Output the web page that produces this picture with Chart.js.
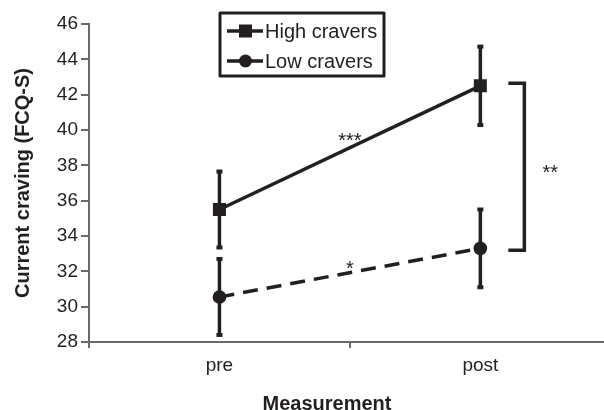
<!DOCTYPE html>
<html>
<head>
<meta charset="utf-8">
<script src="https://cdn.jsdelivr.net/npm/chart.js@4/dist/chart.umd.min.js"></script>
<style>
  body { margin: 0; background: #fff; overflow: hidden; }
  canvas { display: block; }
</style>
</head>
<body>
<canvas id="chart" width="620" height="410"></canvas>
<script>
// values
const measurements = ['pre', 'post'];
const highLabel = 'High cravers';
const lowLabel = 'Low cravers';
const highMeans = [35.5, 42.5];
const highErrors = [2.15, 2.22];
const lowMeans = [30.55, 33.3];
const lowErrors = [2.15, 2.2];
const yTicks = [28, 30, 32, 34, 36, 38, 40, 42, 44, 46];
// significance marks: change within each group, difference between groups at post
const highChangeStars = '***';
const lowChangeStars = '*';
const groupDiffStars = '**';

const ink = '#231f20';
const axisGrey = '#6a6a6a';
const font = '"Liberation Sans", Arial, sans-serif';

function drawErrorBars(chart, idx, errors) {
  const ctx = chart.ctx;
  const y = chart.scales.y;
  const meta = chart.getDatasetMeta(idx);
  ctx.save();
  ctx.strokeStyle = ink;
  ctx.fillStyle = ink;
  ctx.lineWidth = 3.5;
  meta.data.forEach((pt, i) => {
    const v = chart.data.datasets[idx].data[i];
    const top = y.getPixelForValue(v + errors[i]);
    const bot = y.getPixelForValue(v - errors[i]);
    ctx.beginPath();
    ctx.moveTo(pt.x, top);
    ctx.lineTo(pt.x, bot);
    ctx.stroke();
    ctx.fillRect(pt.x - 3, top - 2, 6, 4);
    ctx.fillRect(pt.x - 3, bot - 2, 6, 4);
  });
  ctx.restore();
}

const extras = {
  id: 'extras',
  beforeDatasetsDraw(chart) {
    drawErrorBars(chart, 0, highErrors);
    drawErrorBars(chart, 1, lowErrors);
  },
  afterDraw(chart) {
    const ctx = chart.ctx;
    const y = chart.scales.y;
    const hi = chart.getDatasetMeta(0).data;
    const lo = chart.getDatasetMeta(1).data;

    // bracket between groups at post
    const bx = hi[1].x + 44;
    const bTop = y.getPixelForValue(highMeans[1] + 0.15);
    const bBot = y.getPixelForValue(lowMeans[1] - 0.1);
    ctx.save();
    ctx.strokeStyle = ink;
    ctx.lineWidth = 3.5;
    ctx.beginPath();
    ctx.moveTo(bx - 16, bTop);
    ctx.lineTo(bx, bTop);
    ctx.lineTo(bx, bBot);
    ctx.lineTo(bx - 16, bBot);
    ctx.stroke();

    // stars
    ctx.fillStyle = ink;
    ctx.font = '20px ' + font;
    ctx.textAlign = 'center';
    ctx.textBaseline = 'alphabetic';
    const midHi = (hi[0].y + hi[1].y) / 2;
    const midLo = (lo[0].y + lo[1].y) / 2;
    const midX = (hi[0].x + hi[1].x) / 2;
    ctx.fillText(highChangeStars, midX, midHi - 1);
    ctx.fillText(lowChangeStars, midX, midLo + 2);
    ctx.fillText(groupDiffStars, bx + 26, (bTop + bBot) / 2 + 12);

    // x axis title
    ctx.font = 'bold 20px ' + font;
    ctx.fillText('Measurement', 327, 410);

    // legend
    const lx = 220, ly = 13, lw = 164, lh = 63;
    ctx.lineWidth = 3;
    ctx.lineJoin = 'round';
    ctx.strokeRect(lx, ly, lw, lh);
    ctx.lineWidth = 3.5;
    const rows = [
      { label: chart.data.datasets[0].label, y: 31, style: 'rect' },
      { label: chart.data.datasets[1].label, y: 61, style: 'circle' }
    ];
    rows.forEach(r => {
      ctx.beginPath();
      if (r.style === 'rect') {
        ctx.moveTo(227, r.y);
        ctx.lineTo(263, r.y);
        ctx.stroke();
        ctx.fillRect(239, r.y - 6.5, 13, 13);
      } else {
        ctx.moveTo(227, r.y);
        ctx.lineTo(240, r.y);
        ctx.moveTo(251, r.y);
        ctx.lineTo(263, r.y);
        ctx.stroke();
        ctx.beginPath();
        ctx.arc(245.5, r.y, 6.5, 0, Math.PI * 2);
        ctx.fill();
      }
      ctx.font = '20px ' + font;
      ctx.textAlign = 'left';
      ctx.textBaseline = 'middle';
      ctx.fillText(r.label, 265, r.y + 1);
    });
    ctx.restore();
  }
};

new Chart(document.getElementById('chart').getContext('2d'), {
  type: 'line',
  data: {
    labels: measurements,
    datasets: [
      {
        label: highLabel, data: highMeans, borderColor: ink, backgroundColor: ink,
        borderWidth: 3.5, pointStyle: 'rect', pointRadius: 9.2, pointBorderWidth: 0, fill: false
      },
      {
        label: lowLabel, data: lowMeans, borderColor: ink, backgroundColor: ink,
        borderWidth: 3.5, borderDash: [15, 9], pointStyle: 'circle', pointRadius: 6.8, pointBorderWidth: 0, fill: false
      }
    ]
  },
  options: {
    responsive: false,
    animation: false,
    layout: { padding: { top: 24, right: 7, left: 0, bottom: 0 } },
    plugins: { legend: { display: false }, tooltip: { enabled: false } },
    scales: {
      x: {
        offset: true,
        grid: { offset: true, drawOnChartArea: false, tickLength: 6, color: axisGrey, lineWidth: 2 },
        border: { color: axisGrey, width: 2 },
        ticks: { color: ink, font: { family: font, size: 19 }, padding: 6 },
        afterFit: s => { s.height = 68; }
      },
      y: {
        min: 28,
        max: 46,
        afterBuildTicks: s => { s.ticks = yTicks.map(v => ({ value: v })); },
        grid: { drawOnChartArea: false, tickLength: 8, color: axisGrey, lineWidth: 2 },
        border: { color: axisGrey, width: 2 },
        ticks: { color: ink, font: { family: font, size: 19 }, padding: 3 },
        title: {
          display: true, text: 'Current craving (FCQ-S)', color: ink,
          font: { family: font, size: 20, weight: 'bold' }, padding: { top: 11, bottom: 0 }
        },
        afterFit: s => { s.width = 89; }
      }
    }
  },
  plugins: [extras]
});
</script>
</body>
</html>
